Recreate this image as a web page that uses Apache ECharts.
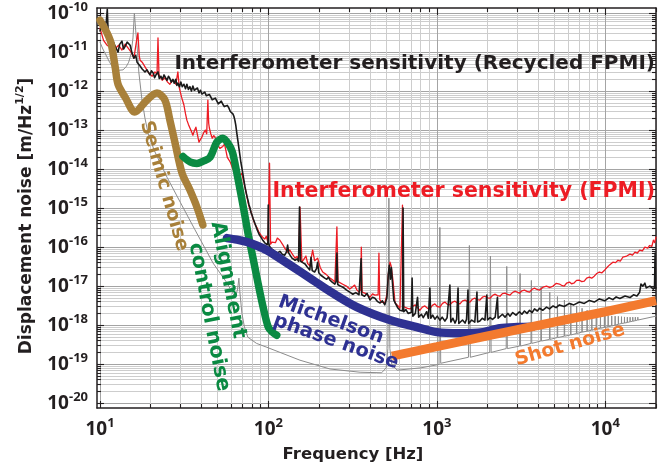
<!DOCTYPE html>
<html><head><meta charset="utf-8">
<script src="https://cdn.jsdelivr.net/npm/echarts@6/dist/echarts.min.js"></script>
<style>html,body{margin:0;padding:0;background:#fff}#c{width:660px;height:467px}</style>
</head><body><div id="c"></div>
<script>
// ---------- axis ticks ----------
const xMajorTicks = [10, 100, 1000, 10000];
const yMajorTicks = [1e-20, 1e-19, 1e-18, 1e-17, 1e-16, 1e-15, 1e-14, 1e-13, 1e-12, 1e-11, 1e-10];
const minorFactors = [2, 3, 4, 5, 6, 7, 8, 9];
const X_MIN = 9.6, X_MAX = 20000, Y_MIN = 7.5e-21, Y_MAX = 1.35e-10;

// ---------- series values [frequency Hz, displacement m/rtHz] ----------
const seismicNoise = [[10,6.6e-11],[11.5,2.0e-11],[12.3,4.2e-12],[12.8,1.5e-12],[14.1,7.0e-13],[16.1,2.9e-13],[19.0,5.9e-13],[21.8,8.9e-13],[24.3,5.9e-13],[26.0,1.8e-13],[27.9,4.7e-14],[30.7,7.9e-15],[34.2,2.9e-15],[37.6,1.07e-15],[40.8,3.7e-16]];
const alignmentNoise = [[31.1,2.1e-14],[34.5,1.5e-14],[37.6,1.4e-14],[41,1.6e-14],[45.0,2.0e-14],[49.4,4.9e-14],[53.6,6.2e-14],[57.5,4.6e-14],[61.0,2.8e-14],[63.5,1.3e-14],[66.7,4.4e-15],[71.5,8.9e-16],[75.6,2.3e-16],[80.5,6.0e-17],[86.9,1.15e-17],[93.0,2.9e-18],[99.8,8.9e-19],[106,6.5e-19],[112,5.5e-19]];
const michelsonNoise = [[56.7,1.7e-16],[65,1.55e-16],[74.5,1.35e-16],[85,1.1e-16],[97.9,8.3e-17],[134,3.5e-17],[184,1.42e-17],[241,6.6e-18],[335,2.9e-18],[526,1.35e-18],[761,8.9e-19],[1000,6.6e-19],[1368,6.2e-19],[1875,6.6e-19],[2365,8.3e-19],[3000,8.9e-19],[3700,9.1e-19]];
const shotNoise = [[541,1.6e-19],[1000,2.8e-19],[2000,5.3e-19],[5000,1.2e-18],[10000,2.2e-18],[20000,4.25e-18]];
const modelLine = [[10,1.8e-11],[10.4,1.2e-11],[10.85,8.4e-12],[11.4,5.5e-12],[11.9,4.1e-12],[12.8,3.4e-12],[13.7,3.5e-12],[14.3,4.2e-12],[14.8,5.5e-12],[15.3,9e-12],[15.7,2.3e-11],[16.0,1.0e-10],[16.3,3.5e-11],[16.6,1.5e-11],[17.0,3.1e-12],[17.7,6.6e-13],[18.5,2.0e-13],[19.3,8.3e-14],[21,3.0e-14],[25.0,6.2e-15],[30,1.4e-15],[36.6,2.8e-16],[46.9,3.9e-17],[56.8,1.2e-17],[63.3,5.2e-18],[65.5,8e-18],[66.8,1.6e-17],[67.5,8e-18],[69.6,2.0e-18],[72,9e-19],[75.5,4.9e-19],[85,3.4e-19],[98,2.7e-19],[154,1.26e-19],[232,7.5e-20],[350,6.2e-20],[470,6.0e-20],[500,8e-20],[512,2.5e-19],[519,1.8e-15],[526,2.5e-19],[540,1.0e-19],[580,7.0e-20],[800,8.0e-20],[1030,9.8e-20],[1042,3.2e-16],[1054,1.05e-19],
[1540,1.5e-19],[1560,1.1e-16],[1580,1.5e-19],[2060,2.0e-19],[2080,5.9e-17],[2100,2.0e-19],[2580,2.5e-19],[2600,3.2e-17],[2620,2.5e-19],[3100,2.9e-19],[3120,2.1e-17],[3140,2.9e-19],[3620,3.4e-19],[3640,1.4e-17],[3660,3.4e-19],[4140,3.9e-19],[4160,9.4e-18],[4180,3.9e-19],[4660,4.3e-19],[4680,7.0e-18],[4700,4.3e-19],[5180,4.8e-19],[5200,5.4e-18],[5220,4.8e-19],[5700,5.2e-19],[5720,4.4e-18],[5740,5.2e-19],[6220,5.6e-19],[6240,3.7e-18],[6260,5.6e-19],[6740,6.1e-19],[6760,3.1e-18],[6780,6.1e-19],[7260,6.6e-19],[7280,2.7e-18],[7300,6.6e-19],[7780,7.0e-19],[7800,2.4e-18],[7820,7.0e-19],[8300,7.4e-19],[8320,2.2e-18],[8340,7.4e-19],[8820,7.9e-19],[8840,2.0e-18],[8860,7.9e-19],[9340,8.3e-19],[9360,1.9e-18],[9380,8.3e-19],[9860,8.7e-19],[9880,1.8e-18],[9900,8.7e-19],[10380,9.1e-19],[10400,1.75e-18],[10420,9.1e-19],[10900,9.5e-19],[10920,1.72e-18],[10940,9.5e-19],[11420,1.0e-18],[11440,1.7e-18],[11460,1.0e-18],[11940,1.05e-18],[11960,1.68e-18],[11980,1.05e-18],[12460,1.1e-18],[12480,1.65e-18],[12500,1.1e-18],[12980,1.13e-18],[13000,1.62e-18],[13020,1.13e-18],[13500,1.17e-18],[13520,1.6e-18],[13540,1.17e-18],[14020,1.22e-18],[14040,1.6e-18],[14060,1.22e-18],[14540,1.26e-18],[14560,1.6e-18],[14580,1.26e-18],[15060,1.3e-18],[15080,1.6e-18],[15100,1.3e-18],[15580,1.35e-18],[15600,1.6e-18],[15620,1.35e-18],[20000,1.7e-18]];
const recycledFPMI = [[10,3.5e-11],[10.3,5.5e-11],[10.6,3.6e-11],[10.9,6e-11],[11.05,1.25e-10],[11.2,2.7e-11],[11.5,1.5e-11],[11.9,2.0e-11],[12.3,1.4e-11],[12.8,1.0e-11],[13.1,1.6e-11],[13.5,1.9e-11],[13.8,1.2e-11],[14.1,1.4e-11],[14.5,1.8e-11],[15.1,1.5e-11],[15.5,9.4e-12],[15.9,7.0e-12],[16.3,8.2e-12],[16.6,5.5e-12],[17.0,6.0e-12],[17.3,4.4e-12],[17.8,3.7e-12],[18.1,4.1e-12],[18.5,3.1e-12],[19.0,3.5e-12],[19.3,3.2e-12],[19.8,2.6e-12],[20.2,3.3e-12],[20.7,2.9e-12],[21.1,2.2e-12],[21.5,2.6e-12],[22.1,3.1e-12],[22.5,2.1e-12],[23.0,2.4e-12],[23.5,2.0e-12],[24.0,2.6e-12],[24.5,2.2e-12],[25.0,1.9e-12],[25.5,2.4e-12],[26.0,2.1e-12],[26.5,1.7e-12],[27.1,2.0e-12],[27.6,1.6e-12],[28.2,2.0e-12],[28.6,1.4e-12],[29.0,1.6e-12],[29.6,1.3e-12],[30.2,1.7e-12],[30.8,1.3e-12],[31.5,1.5e-12],[32.2,1.15e-12],[32.8,1.5e-12],[33.5,1.1e-12],[34.2,1.3e-12],[34.9,1.0e-12],[35.6,1.35e-12],[36.3,1.05e-12],[37.1,1.0e-12],[37.9,1.2e-12],[38.7,9.0e-13],[39.5,1.05e-12],[40.3,8.4e-13],[41.1,7.5e-13],[41.9,9.4e-13],[42.8,7.6e-13],[43.7,6.8e-13],[44.6,8.2e-13],[45.5,7.9e-13],[46.4,6.0e-13],[47.4,5.5e-13],[48.4,6.6e-13],[49.4,6.0e-13],[50.4,4.7e-13],[51.5,4.6e-13],[52.5,5.5e-13],[53.6,4.6e-13],[54.7,4.0e-13],[55.9,3.7e-13],[57.0,4.3e-13],[58.2,3.7e-13],[59.4,3.0e-13],[60.6,2.9e-13],[61.5,2.6e-13],[62.3,2.3e-13],[63.2,1.8e-13],[64.0,1.34e-13],[65.0,8e-14],[65.8,5.5e-14],[66.7,3.6e-14],[67.7,2.3e-14],[68.6,1.5e-14],[69.6,1.06e-14],[70.5,7.5e-15],[71.5,5.2e-15],[72.5,3.6e-15],[73.6,2.6e-15],[74.6,2.0e-15],[75.6,1.6e-15],[76.7,1.2e-15],[77.8,1.0e-15],[78.9,7.6e-16],[80.0,6.6e-16],[81.1,5.4e-16],[82.2,4.9e-16],[83.4,3.9e-16],[84.5,3.5e-16],[85.7,2.8e-16],[86.9,2.6e-16],[88.1,2.1e-16],[89.3,2.0e-16],[90.6,1.75e-16],[91.9,1.7e-16],[93.1,1.45e-16],[94.4,1.5e-16],[95.7,1.25e-16],[97.1,1.34e-16],[98.5,1.15e-16],[99.4,1.4e-16],[99.8,1.2e-15],[100.3,1.3e-16],[101.5,1.05e-16],[102.6,1.13e-16],[104,9.2e-17],[106,1.0e-16],[108,8.0e-17],[110,8.4e-17],[113,7.0e-17],[117,7.8e-17],[121,6.5e-17],[125,6.2e-17],[128,7.5e-17],[130,1.13e-16],[132,7.0e-17],[134,6.6e-17],[138,5.2e-17],[141,5.7e-17],[144,4.6e-17],[148,5.0e-17],[151,4.3e-17],[153,1.06e-15],[155,4.4e-17],[160,4.0e-17],[165,3.7e-17],[170,3.1e-17],[176,2.6e-17],[179,5.5e-17],[182,2.5e-17],[188,2.3e-17],[193,2.8e-17],[196,4.1e-17],[199,2.2e-17],[205,1.9e-17],[210,1.8e-17],[216,1.6e-17],[222,1.5e-17],[227,1.7e-17],[232,1.42e-17],[240,1.25e-17],[248,1.13e-17],[252,1.3e-17],[255,7.0e-17],[258,1.1e-17],[267,1.0e-17],[277,9.4e-18],[290,8.0e-18],[304,7.0e-18],[312,7.8e-18],[317,6.2e-18],[330,6.8e-18],[345,6.0e-18],[352,6.5e-18],[355,5.0e-17],[358,6.0e-18],[372,5.5e-18],[385,6.5e-18],[401,4.4e-18],[415,5.2e-18],[429,4.9e-18],[445,4.0e-18],[460,3.7e-18],[475,4.2e-18],[491,3.3e-18],[505,5e-18],[515,2.0e-17],[522,3.4e-17],[530,1.5e-17],[537,3.0e-17],[545,1.2e-17],[555,4.4e-18],[565,4.0e-18],[585,2.8e-18],[604,2.4e-18],[620,2.6e-18],[626,2.3e-18],[630,1.0e-15],[636,2.2e-18],[655,2.5e-18],[675,2.0e-18],[693,1.8e-18],[705,2.1e-18],[713,1.6e-17],[720,1.7e-18],[745,2.0e-18],[768,5.2e-18],[780,1.6e-18],[810,1.9e-18],[830,1.55e-18],[849,1.5e-18],[870,2.2e-18],[890,1.5e-18],[909,8.9e-18],[920,1.5e-18],[945,1.8e-18],[973,1.42e-18],[1005,1.7e-18],[1042,1.34e-18],[1075,1.6e-18],[1116,1.27e-18],[1150,1.55e-18],[1195,1.06e-17],[1210,1.2e-18],[1245,1.5e-18],[1281,1.13e-18],[1310,1.4e-18],[1336,8.9e-18],[1350,1.1e-18],[1371,1.06e-18],[1420,1.35e-18],[1470,1.13e-18],[1500,1.4e-18],[1530,7.9e-18],[1545,1.1e-18],[1610,1.35e-18],[1680,1.19e-18],[1730,7.0e-18],[1745,1.2e-18],[1800,1.27e-18],[1860,1.5e-18],[1930,1.34e-18],[1980,5.9e-18],[2000,1.35e-18],[2070,1.55e-18],[2140,1.4e-18],[2220,1.6e-18],[2290,5.2e-18],[2310,1.5e-18],[2370,1.5e-18],[2450,1.9e-18],[2540,1.6e-18],[2640,2.0e-18],[2720,1.7e-18],[2820,2.1e-18],[2950,1.8e-18],[3090,2.2e-18],[3200,1.9e-18],[3310,2.3e-18],[3430,2.0e-18],[3550,2.4e-18],[3680,2.1e-18],[3800,2.6e-18],[3950,2.3e-18],[4070,2.7e-18],[4250,2.4e-18],[4480,2.9e-18],[4660,2.6e-18],[4900,3.1e-18],[5100,2.8e-18],[5340,3.3e-18],[5700,3.0e-18],[6130,3.6e-18],[6500,3.3e-18],[7020,3.9e-18],[7500,3.6e-18],[8040,4.3e-18],[8600,3.9e-18],[9220,4.7e-18],[9930,4.2e-18],[10500,5.0e-18],[11090,4.5e-18],[11600,5.3e-18],[12200,4.8e-18],[13100,5.6e-18],[14020,5.1e-18],[14700,6.0e-18],[15410,5.6e-18],[16000,7.0e-18],[16280,1.13e-17],[16700,1.0e-17],[17180,1.19e-17],[17500,9.0e-18],[17890,8.9e-18],[18400,1.0e-17],[18880,9.4e-18],[19300,8.4e-18],[19600,9.5e-18],[19750,7.0e-17],[19850,1.0e-17],[20000,9.0e-18]];
const plainFPMI = [[10,4.1e-11],[10.5,2.0e-11],[11.0,1.5e-11],[11.5,1.34e-11],[11.9,1.9e-11],[12.4,1.27e-11],[12.9,1.5e-11],[13.5,1.13e-11],[14.1,1.6e-11],[14.7,1.27e-11],[15.3,1.0e-11],[15.9,7.0e-12],[16.5,2.0e-11],[16.8,3.1e-11],[17.1,8e-12],[17.3,6.2e-12],[17.8,5.5e-12],[18.7,3.9e-12],[19.5,2.9e-12],[20.4,2.4e-12],[21.2,3.1e-12],[21.8,2.7e-12],[22.1,2.3e-11],[22.4,2.6e-12],[23.4,1.9e-12],[24.3,2.2e-12],[25.2,1.7e-12],[26.0,1.5e-12],[27.1,1.9e-12],[28.2,1.5e-12],[29.0,3.1e-12],[29.6,1.19e-12],[30.5,7e-13],[31.5,4.4e-13],[32.2,2.6e-13],[32.8,1.8e-13],[33.5,1.4e-13],[34.2,1.13e-13],[35.0,9e-14],[35.6,7.4e-14],[36.3,9.5e-14],[37.1,1.19e-13],[37.9,7.5e-14],[38.7,4.9e-14],[39.5,5.8e-14],[40.3,6.6e-14],[41.2,8.5e-14],[42.2,1.0e-13],[43.0,8e-14],[43.7,5.9e-13],[44.2,1.5e-13],[44.6,1.13e-13],[45.5,8e-14],[46.4,6.2e-14],[47.4,7.2e-14],[48.4,7.9e-14],[49.4,5.5e-14],[50.5,3.9e-14],[51.5,3.4e-14],[52.6,3.1e-14],[53.6,3.8e-14],[54.9,4.4e-14],[55.9,3.0e-14],[57.0,2.0e-14],[58.2,1.8e-14],[59.4,1.5e-14],[60.6,1.2e-14],[61.8,9.4e-15],[63.0,1.05e-14],[64.4,1.19e-14],[65.6,8.5e-15],[67.0,6.6e-15],[68.2,7.2e-15],[69.6,7.9e-15],[70.5,6.0e-15],[71.5,4.6e-15],[72.5,3.5e-15],[73.6,2.6e-15],[74.6,1.9e-15],[75.6,1.42e-15],[77.2,1.0e-15],[78.9,7.9e-16],[80.5,5.8e-16],[82.2,4.4e-16],[83.9,3.6e-16],[85.7,3.1e-16],[87.5,2.5e-16],[89.3,2.2e-16],[91.2,1.9e-16],[93.1,1.7e-16],[95.1,1.6e-16],[97.1,1.9e-16],[99.4,1.3e-16],[101.5,1.42e-14],[103,1.19e-16],[105,1.35e-16],[107,1.5e-16],[110,1.3e-16],[113,1.7e-16],[117,1.5e-16],[121,1.2e-16],[125,9.4e-17],[130,7.4e-17],[134,8.4e-17],[139,6.5e-17],[144,5.2e-17],[148,5.8e-17],[151,4.5e-17],[154,1.06e-15],[158,4.1e-17],[162,4.6e-17],[167,5.9e-17],[171,3.8e-17],[176,3.3e-17],[183,8.4e-17],[188,4.5e-17],[196,5.2e-17],[203,3.0e-17],[210,2.3e-17],[220,2.0e-17],[232,1.6e-17],[240,1.45e-17],[248,1.27e-17],[252,1.3e-17],[255,3.3e-16],[259,1.3e-17],[266,1.42e-17],[278,1.1e-17],[290,1.0e-17],[304,8.4e-18],[315,9.5e-18],[325,1.06e-17],[335,8.0e-18],[345,7.0e-18],[353,8e-18],[356,1.0e-16],[360,7.0e-18],[380,6.4e-18],[401,5.2e-18],[415,6.3e-18],[429,5.9e-18],[448,6.0e-18],[453,7.0e-17],[458,4.5e-18],[470,3.9e-18],[491,3.7e-18],[505,6e-18],[515,2.0e-17],[527,4.1e-17],[535,3.3e-17],[548,1.5e-17],[565,3.7e-18],[585,3.2e-18],[604,2.7e-18],[620,2.8e-18],[625,1.19e-15],[632,3.0e-18],[648,3.1e-18],[670,2.7e-18],[693,2.6e-18],[718,3.0e-18],[743,3.3e-18],[768,2.8e-18],[792,2.4e-18],[820,2.9e-18],[849,3.1e-18],[880,2.7e-18],[909,2.6e-18],[940,3.2e-18],[973,3.5e-18],[1005,3.0e-18],[1042,2.9e-18],[1080,3.6e-18],[1116,3.9e-18],[1155,3.4e-18],[1195,3.3e-18],[1240,3.9e-18],[1281,4.1e-18],[1325,3.7e-18],[1371,3.5e-18],[1420,4.2e-18],[1470,4.4e-18],[1520,4.0e-18],[1570,3.9e-18],[1625,4.6e-18],[1680,4.9e-18],[1740,4.5e-18],[1800,4.4e-18],[1865,5.2e-18],[1930,5.5e-18],[2000,5.0e-18],[2070,4.9e-18],[2145,5.8e-18],[2220,6.2e-18],[2290,5.7e-18],[2370,5.5e-18],[2450,6.4e-18],[2540,6.6e-18],[2630,6.1e-18],[2720,5.9e-18],[2820,6.9e-18],[2920,7.4e-18],[3000,6.9e-18],[3090,6.6e-18],[3200,7.6e-18],[3310,7.9e-18],[3430,7.3e-18],[3550,7.0e-18],[3680,8.3e-18],[3800,8.9e-18],[3930,8.2e-18],[4070,7.9e-18],[4270,9.4e-18],[4480,1.0e-17],[4690,9.2e-18],[4900,1.0e-17],[5120,1.18e-17],[5340,1.13e-17],[5500,1.05e-17],[5700,1.0e-17],[5900,1.2e-17],[6130,1.27e-17],[6300,1.15e-17],[6500,1.19e-17],[6750,1.4e-17],[7020,1.42e-17],[7250,1.3e-17],[7500,1.34e-17],[7750,1.6e-17],[8040,1.7e-17],[8300,1.6e-17],[8600,1.8e-17],[8900,2.1e-17],[9220,2.3e-17],[9550,2.2e-17],[9930,2.6e-17],[10300,3.1e-17],[10600,3.5e-17],[10850,3.3e-17],[11090,4.1e-17],[11500,4.0e-17],[11900,4.6e-17],[12300,4.4e-17],[12700,5.5e-17],[13000,5.1e-17],[13400,5.9e-17],[13700,5.6e-17],[14020,6.6e-17],[14500,6.2e-17],[15000,7.4e-17],[15500,7.0e-17],[16000,8.4e-17],[16600,8.0e-17],[17180,1.0e-16],[17500,9.0e-17],[17890,9.4e-17],[18300,1.1e-16],[18600,1.19e-16],[18900,1.05e-16],[19300,1.5e-16],[19650,1.3e-16],[20000,1.8e-16]];

// ---------- chart ----------
const FONT = "'Noto Sans', 'DejaVu Sans', sans-serif";
const DV = "'DejaVu Sans', sans-serif";
const INK = '#231f20';
function minorList(majors, lo, hi) {
  const out = [];
  majors.concat([majors[0] / 10]).forEach(m => minorFactors.forEach(k => {
    const v = parseFloat((k * m).toPrecision(6));
    if (v > lo && v <= hi) out.push(v);
  }));
  return out.sort((a, b) => a - b);
}
const xMinorTicks = minorList(xMajorTicks, X_MIN, X_MAX);
const yMinorTicks = minorList(yMajorTicks, Y_MIN, Y_MAX);

function supLabel(v) { return '{b|10}{s|' + Math.round(Math.log10(v)) + '}'; }
const labelRich = {
  b: { fontFamily: FONT, fontSize: 19, fontWeight: 'bold', color: INK, lineHeight: 20, verticalAlign: 'bottom' },
  s: { fontFamily: FONT, fontSize: 13, fontWeight: 'bold', color: INK, lineHeight: 14, padding: [0, 0, 12, 0] }
};

function axis(kind, pos, major, withLabel, split) {
  const isX = kind === 'x';
  const a = {
    type: 'log', logBase: 10, gridIndex: 0, position: pos,
    min: isX ? X_MIN : Y_MIN, max: isX ? X_MAX : Y_MAX,
    axisLine: { show: major, lineStyle: { color: INK, width: 1.5 } },
    axisTick: { show: true, inside: true, length: major ? 7 : 4,
      customValues: major ? (isX ? xMajorTicks : yMajorTicks) : (isX ? xMinorTicks : yMinorTicks),
      lineStyle: { color: INK, width: 1.1 } },
    axisLabel: { show: false },
    splitLine: { show: split, lineStyle: { color: major ? '#a4a4a4' : '#cdcdcd', width: 1 } },
    minorTick: { show: false }, minorSplitLine: { show: false }
  };
  if (withLabel) {
    a.axisLabel = { show: true, customValues: isX ? xMajorTicks : yMajorTicks, formatter: supLabel,
      rich: labelRich, margin: isX ? 11 : 9, showMinLabel: true, showMaxLabel: true };
  }
  return a;
}

function lineSeries(name, data, color, width, opts) {
  return Object.assign({
    name, type: 'line', data, xAxisIndex: 0, yAxisIndex: 0, symbol: 'none', showSymbol: false,
    silent: true, animation: false, clip: true,
    lineStyle: { color, width, cap: 'round', join: 'round' }
  }, opts || {});
}

function txt(text, x, y, deg, color, size, align) {
  // deg: visual clockwise angle in degrees
  return { type: 'text', x, y, rotation: -deg * Math.PI / 180, z: 100, silent: true,
    style: { text, fill: color, font: 'bold ' + size + 'px ' + DV, align: align || 'center', verticalAlign: 'middle' } };
}

const chart = echarts.init(document.getElementById('c'), null, { renderer: 'canvas' });
chart.setOption({
  animation: false,
  backgroundColor: '#fff',
  grid: { left: 97, right: 4, top: 8, bottom: 59, containLabel: false, outerBoundsMode: 'none' },
  xAxis: [axis('x', 'bottom', true, true, true), axis('x', 'bottom', false, false, true),
          axis('x', 'top', true, false, false), axis('x', 'top', false, false, false)],
  yAxis: [axis('y', 'left', true, true, true), axis('y', 'left', false, false, true),
          axis('y', 'right', true, false, false), axis('y', 'right', false, false, false)],
  series: [
    lineSeries('model', modelLine, '#8c8c8c', 1),
    lineSeries('FPMI', plainFPMI, '#ed1c24', 1.3),
    lineSeries('Recycled FPMI', recycledFPMI, '#1a1a1a', 1.6),
    lineSeries('Seismic noise', seismicNoise, '#a8803a', 7.5, { smooth: 0.3 }),
    lineSeries('Alignment control noise', alignmentNoise, '#0a8a42', 7.5, { smooth: 0.3 }),
    lineSeries('Michelson phase noise', michelsonNoise, '#2e3192', 8.5, { smooth: 0.3 }),
    lineSeries('Shot noise', shotNoise, '#f37a2e', 9, { lineStyle: { color: '#f37a2e', width: 9, cap: 'butt' } })
  ],
  graphic: [
    txt('Interferometer sensitivity (Recycled FPMI)', 655, 64, 0, INK, 20, 'right'),
    txt('Interferometer sensitivity (FPMI)', 655, 192, 0, '#ed1c24', 20.5, 'right'),
    txt('Seimic noise', 164, 186, 74, '#a8803a', 19),
    txt('Alignment', 228, 280, 79, '#0a8a42', 20.5),
    txt('control noise', 209, 317, 79, '#0a8a42', 20.5),
    txt('Michelson', 331, 320, 19.5, '#2e3192', 19.5),
    txt('phase noise', 336, 342, 19.5, '#2e3192', 19.5),
    txt('Shot noise', 570, 345, -16, '#f37a2e', 19),
    { type: 'text', x: 25, y: 216, rotation: Math.PI / 2, z: 100, silent: true,
      style: { text: '{a|Displacement noise [m/Hz}{s|1/2}{a|]}', align: 'center', verticalAlign: 'middle',
        rich: { a: { font: 'bold 17px ' + DV, fill: INK, lineHeight: 20, verticalAlign: 'bottom' },
                s: { font: 'bold 11px ' + DV, fill: INK, lineHeight: 12, padding: [0, 0, 10, 0] } } } },
    txt('Frequency [Hz]', 353, 455, 0, INK, 16.5)
  ]
});
</script></body></html>
